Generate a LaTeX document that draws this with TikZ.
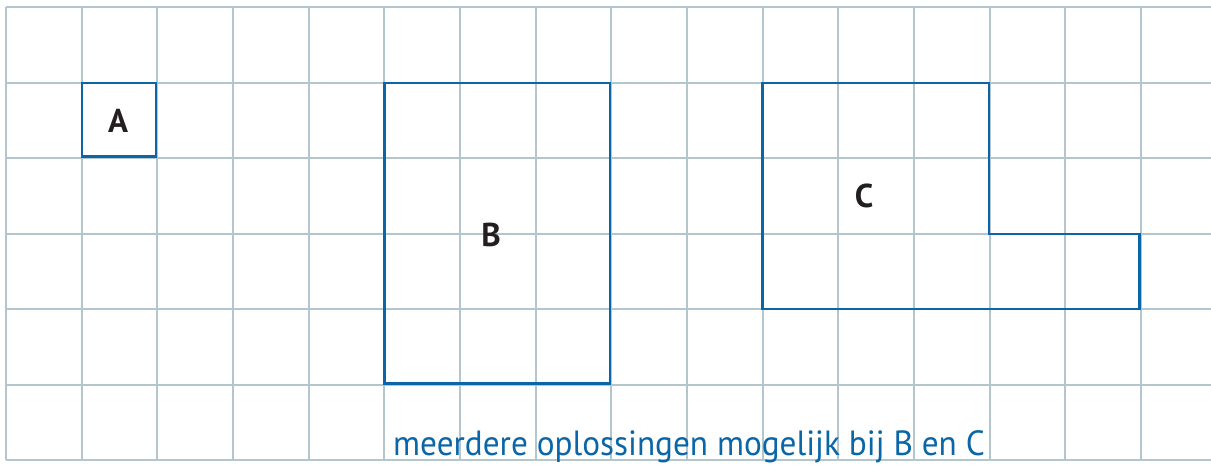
\documentclass[tikz,border=0pt]{standalone}
\usepackage{fontspec}
\setmainfont{PT Sans}
\definecolor{gridc}{HTML}{B3C5CD}
\definecolor{shapeblue}{HTML}{0A66A6}
\definecolor{labelc}{HTML}{231F20}
\begin{document}
\begin{tikzpicture}[x=1pt,y=-1pt,
  gridline/.style={draw=gridc,line width=2pt},
  shapeline/.style={draw=shapeblue,line width=2.6pt,line join=miter},
  shapelabel/.style={text=labelc,font=\fontsize{33}{33}\selectfont\bfseries,inner sep=0pt},
  note/.style={text=shapeblue,font=\fontsize{35}{35}\selectfont,inner sep=0pt}]
\useasboundingbox (0,0) rectangle (1211,464);
\fill[white] (0,0) rectangle (1211,464);
% grid
\foreach \k in {0,...,15} {
  \draw[gridline] ({6+75.67*\k},7) -- ({6+75.67*\k},460);
}
\foreach \j in {0,...,6} {
  \draw[gridline] (6,{7+75.5*\j}) -- (1212,{7+75.5*\j});
}
% shapes
\draw[shapeline] (82,83) rectangle (156,156.5);
\draw[shapeline] (384.5,83) rectangle (610,383.5);
\draw[shapeline] (762.5,83) -- (989,83) -- (989,234) -- (1139.5,234) -- (1139.5,309) -- (762.5,309) -- cycle;
% labels
\node[shapelabel] (lA) at (118,121) {A};
\node[shapelabel] (lB) at (491,235) {B};
\node[shapelabel] (lC) at (864,196) {C};
\node[note,anchor=base west] (note) at (393,455) {\scalebox{0.95}[1]{meerdere oplossingen mogelijk bij B en C}};
\end{tikzpicture}
\end{document}
